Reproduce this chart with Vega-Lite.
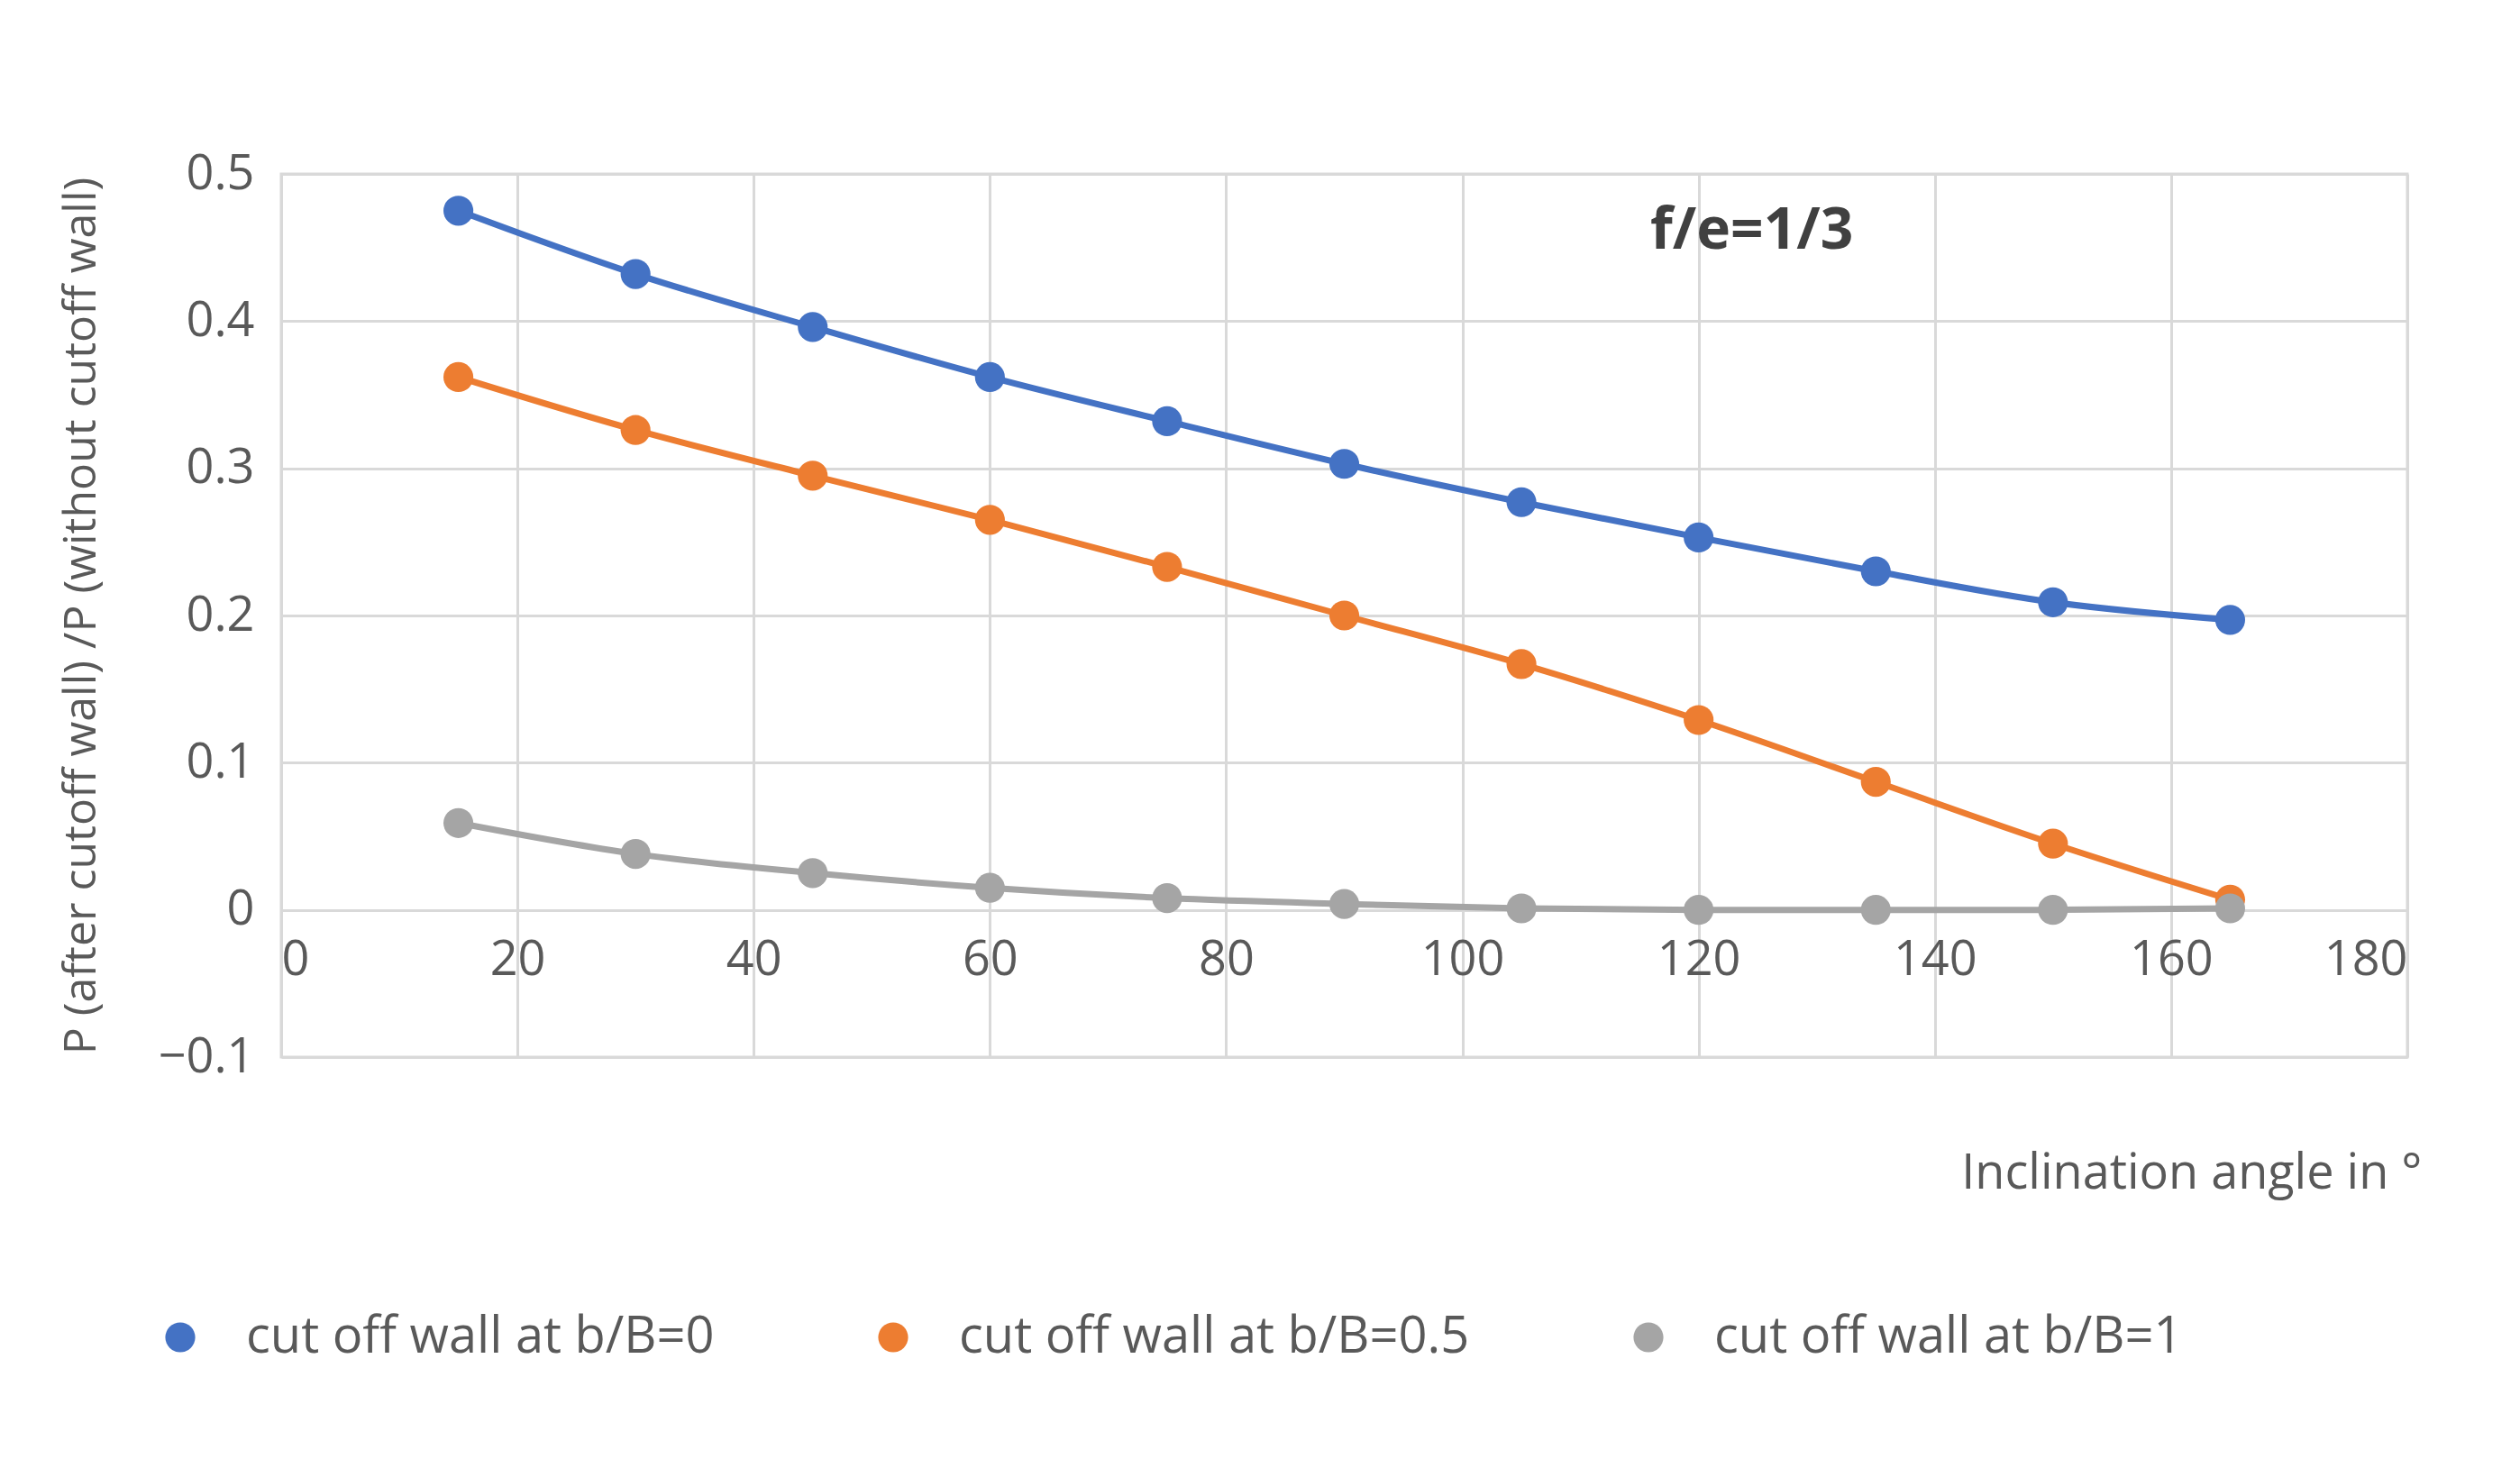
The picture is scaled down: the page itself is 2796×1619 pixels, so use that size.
{
  "$schema": "https://vega.github.io/schema/vega-lite/v6.json",
  "width": 2359,
  "height": 980,
  "autosize": {"type": "none"},
  "padding": {"left": 312, "top": 193, "right": 125, "bottom": 446},
  "background": "white",
  "config": {
    "font": "Open Sans",
    "view": {"stroke": "#d9d9d9", "strokeWidth": 3},
    "axis": {"labelFontSize": 54, "labelColor": "#595959", "titleColor": "#595959", "titleFontWeight": "normal", "gridColor": "#d9d9d9", "gridWidth": 3, "ticks": false, "domain": false}
  },
  "datasets": {
    "series": [
      {"angle": 15, "ratio": 0.475, "s": "cut off wall at b/B=0"},
      {"angle": 30, "ratio": 0.432, "s": "cut off wall at b/B=0"},
      {"angle": 45, "ratio": 0.396, "s": "cut off wall at b/B=0"},
      {"angle": 60, "ratio": 0.362, "s": "cut off wall at b/B=0"},
      {"angle": 75, "ratio": 0.332, "s": "cut off wall at b/B=0"},
      {"angle": 90, "ratio": 0.303, "s": "cut off wall at b/B=0"},
      {"angle": 105, "ratio": 0.277, "s": "cut off wall at b/B=0"},
      {"angle": 120, "ratio": 0.253, "s": "cut off wall at b/B=0"},
      {"angle": 135, "ratio": 0.230, "s": "cut off wall at b/B=0"},
      {"angle": 150, "ratio": 0.209, "s": "cut off wall at b/B=0"},
      {"angle": 165, "ratio": 0.197, "s": "cut off wall at b/B=0"},
      {"angle": 15, "ratio": 0.362, "s": "cut off wall at b/B=0.5"},
      {"angle": 30, "ratio": 0.326, "s": "cut off wall at b/B=0.5"},
      {"angle": 45, "ratio": 0.295, "s": "cut off wall at b/B=0.5"},
      {"angle": 60, "ratio": 0.265, "s": "cut off wall at b/B=0.5"},
      {"angle": 75, "ratio": 0.233, "s": "cut off wall at b/B=0.5"},
      {"angle": 90, "ratio": 0.200, "s": "cut off wall at b/B=0.5"},
      {"angle": 105, "ratio": 0.167, "s": "cut off wall at b/B=0.5"},
      {"angle": 120, "ratio": 0.129, "s": "cut off wall at b/B=0.5"},
      {"angle": 135, "ratio": 0.087, "s": "cut off wall at b/B=0.5"},
      {"angle": 150, "ratio": 0.045, "s": "cut off wall at b/B=0.5"},
      {"angle": 165, "ratio": 0.007, "s": "cut off wall at b/B=0.5"},
      {"angle": 15, "ratio": 0.059, "s": "cut off wall at b/B=1"},
      {"angle": 30, "ratio": 0.038, "s": "cut off wall at b/B=1"},
      {"angle": 45, "ratio": 0.025, "s": "cut off wall at b/B=1"},
      {"angle": 60, "ratio": 0.015, "s": "cut off wall at b/B=1"},
      {"angle": 75, "ratio": 0.008, "s": "cut off wall at b/B=1"},
      {"angle": 90, "ratio": 0.004, "s": "cut off wall at b/B=1"},
      {"angle": 105, "ratio": 0.001, "s": "cut off wall at b/B=1"},
      {"angle": 120, "ratio": 0.0, "s": "cut off wall at b/B=1"},
      {"angle": 135, "ratio": 0.0, "s": "cut off wall at b/B=1"},
      {"angle": 150, "ratio": 0.0, "s": "cut off wall at b/B=1"},
      {"angle": 165, "ratio": 0.001, "s": "cut off wall at b/B=1"}
    ],
    "note": [{"angle": 124.5, "ratio": 0.461, "label": "f/e=1/3"}]
  },
  "layer": [
    {
      "data": {"name": "series"},
      "mark": {"type": "line", "strokeWidth": 7, "interpolate": "monotone", "point": {"filled": true, "size": 1100, "opacity": 1}},
      "encoding": {
        "x": {"field": "angle", "type": "quantitative", "scale": {"domain": [0, 180]},
          "axis": {"values": [0, 20, 40, 60, 80, 100, 120, 140, 160, 180], "offset": -163, "domain": true, "domainColor": "#d9d9d9", "domainWidth": 3, "labelPadding": 55, "labelBaseline": "middle",
            "title": "Inclination angle in °", "titleFontSize": 54, "titleAnchor": "end", "titleAlign": "right", "titleX": 2375, "titleY": 265}},
        "y": {"field": "ratio", "type": "quantitative", "scale": {"domain": [-0.1, 0.5]},
          "axis": {"values": [-0.1, 0, 0.1, 0.2, 0.3, 0.4, 0.5], "labelExpr": "datum.value == 0 ? '0' : format(datum.value, '.1f')", "labelPadding": 30,
            "title": "P (after cutoff wall) /P (without cutoff wall)", "titleFontSize": 50, "titlePadding": 60}},
        "color": {"field": "s", "type": "nominal", "title": null,
          "scale": {"range": ["#4472c4", "#ed7d31", "#a5a5a5"]},
          "legend": {"orient": "none", "legendX": -140, "legendY": 1263, "direction": "horizontal", "labelFontSize": 56, "labelColor": "#595959", "symbolType": "circle", "symbolSize": 1100, "symbolStrokeWidth": 0, "labelOffset": 45, "columnPadding": 170, "labelLimit": 1000}}
      }
    },
    {
      "data": {"name": "note"},
      "mark": {"type": "text", "fontSize": 64, "fontWeight": "bold", "color": "#404040"},
      "encoding": {
        "x": {"field": "angle", "type": "quantitative"},
        "y": {"field": "ratio", "type": "quantitative"},
        "text": {"field": "label"}
      }
    }
  ]
}
